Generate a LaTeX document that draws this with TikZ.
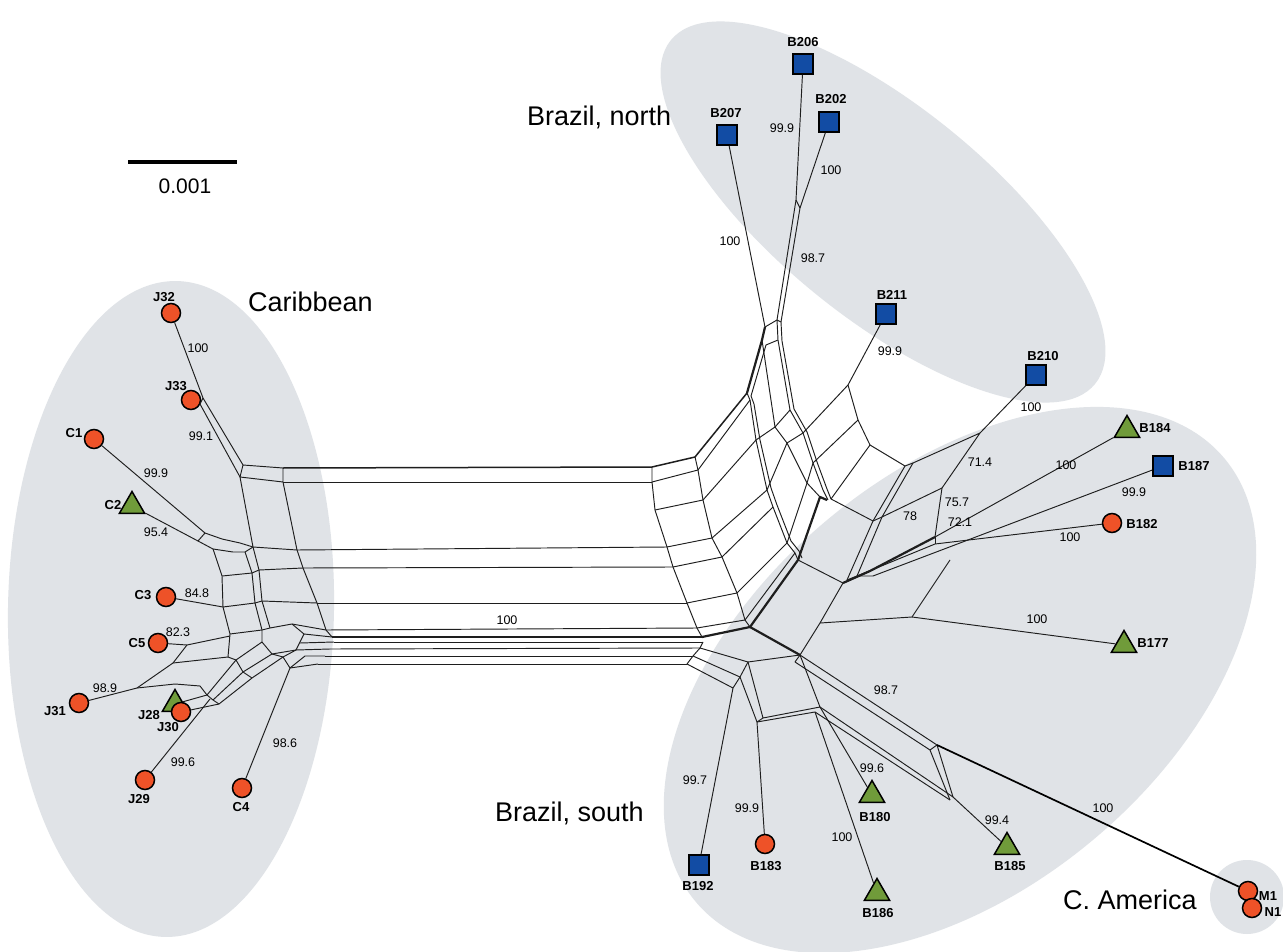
\documentclass[tikz,border=0pt]{standalone}
\usepackage{fontspec}
\setmainfont{Liberation Sans}
\usetikzlibrary{shapes.geometric}
\definecolor{regionfill}{RGB}{224,227,231}
\definecolor{dotred}{RGB}{238,82,40}
\definecolor{sqblue}{RGB}{18,76,164}
\definecolor{trigreen}{RGB}{112,155,58}
\definecolor{meshline}{RGB}{30,30,30}
\tikzset{
  net/.style={line width=0.95pt, draw=meshline, line join=round},
  netthick/.style={line width=2.2pt, draw=meshline, line join=round},
  netmid/.style={line width=1.5pt, draw=meshline, line join=round},
  circ/.style={circle, draw=black, line width=1.5pt, fill=dotred, minimum size=19pt, inner sep=0pt},
  sqr/.style={rectangle, draw=black, line width=1.5pt, fill=sqblue, minimum size=20pt, inner sep=0pt},
  tri/.style={regular polygon, regular polygon sides=3, draw=black, line width=1.5pt, fill=trigreen, minimum size=29pt, inner sep=0pt},
  taxon/.style={font=\fontsize{13}{15}\selectfont\bfseries, inner sep=0pt},
  supp/.style={font=\fontsize{12.5}{15}\selectfont, inner sep=0pt},
  region/.style={font=\fontsize{27}{32}\selectfont, inner sep=0pt, anchor=base west},
  regionbg/.style={fill=regionfill},
}
\begin{document}
\begin{tikzpicture}[x=1pt,y=-1pt]
\useasboundingbox (0,0) rectangle (1283,952);
\fill[white] (0,0) rectangle (1283,952);
% ---------- regions ----------
\fill[regionbg, rotate around={-1:(171,609)}] (171,609) ellipse [x radius=163pt, y radius=328pt];
\fill[regionbg, rotate around={-39:(883,212)}] (883,212) ellipse [x radius=273pt, y radius=106pt];
\fill[regionbg, rotate around={40:(960,680)}] (960,680) ellipse [x radius=345pt, y radius=208pt];
\fill[regionbg] (1247,897) circle [radius=37pt];
% ---------- scale bar ----------
\coordinate (sbL) at (128,162);
\coordinate (sbR) at (237,162);
\draw[line width=3.5pt] (sbL) -- (sbR);
\node[font=\fontsize{21}{25}\selectfont, inner sep=0pt] (sbtext) at (185,186) {0.001};
% ---------- region labels ----------
\node[region] (rgN) at (527,126) {Brazil, north};
\node[region] (rgC) at (248,311) {Caribbean};
\node[region] (rgS) at (495,821) {Brazil, south};
\node[region] (rgA) at (1063,909) {C. America};
% ---------- taxa ----------
\node[circ] (J32) at (171,313) {};
\node[circ] (J33) at (191,400) {};
\node[circ] (C1) at (94,439) {};
\node[tri] (C2) at (132,506) {};
\node[circ] (C3) at (166,597) {};
\node[circ] (C5) at (158,643) {};
\node[circ] (J31) at (79,703) {};
\node[tri] (J28) at (175,704) {};
\node[circ] (J30) at (181,712) {};
\node[circ] (J29) at (145,780) {};
\node[circ] (C4) at (242,788) {};
\node[sqr] (B206) at (803,64) {};
\node[sqr] (B202) at (829,122) {};
\node[sqr] (B207) at (727,135) {};
\node[sqr] (B211) at (886,314) {};
\node[sqr] (B210) at (1036,375) {};
\node[tri] (B184) at (1127,430) {};
\node[sqr] (B187) at (1163,466) {};
\node[circ] (B182) at (1112,523) {};
\node[tri] (B177) at (1124,645) {};
\node[sqr] (B192) at (699,865) {};
\node[circ] (B183) at (765,844) {};
\node[tri] (B180) at (872,795) {};
\node[tri] (B186) at (877,893) {};
\node[tri] (B185) at (1007,847) {};
% ---------- left hub ----------
\draw[net] (J32) -- (203,398);
\draw[net] (J33) -- (200,404);
\draw[net] (203,398) -- (243,465);
\draw[net] (200,404) -- (240,477);
\draw[net] (203,398) -- (200,404);
\draw[net] (243,465) -- (283,468) -- (283,482) -- (240,477) -- cycle;
\draw[net] (240,477) -- (253,547);
\draw[net] (283,482) -- (297,550);
\draw[net] (C1) -- (205,533);
\draw[net] (C2) -- (198,541);
\draw[net] (205,533) -- (198,541);
\draw[net] (205,533) -- (222,539) -- (240,543) -- (253,547);
\draw[net] (198,541) -- (213,549) -- (233,552) -- (245,552);
\draw[net] (213,549) -- (222,576) -- (223,607) -- (230,634) -- (228,657);
\draw[net] (245,552) -- (252,573) -- (255,603) -- (262,630);
\draw[net] (253,547) -- (259,570) -- (262,601) -- (270,628);
\draw[net] (297,550) -- (303,568) -- (317,603) -- (326,630) -- (332,637);
\draw[net] (245,552) -- (253,547) -- (297,550);
\draw[net] (222,576) -- (252,573) -- (259,570) -- (303,568);
\draw[net] (223,607) -- (255,603) -- (262,601) -- (317,603);
\draw[net] (230,634) -- (262,630) -- (270,628);
\draw[net] (270,628) -- (292,624) -- (304,634) -- (296,650) -- (272,654) -- (262,642) -- (262,630);
\draw[net] (304,634) -- (332,637);
\draw[net] (292,624) -- (326,630);
\draw[net] (C3) -- (223,607);
\draw[net] (C5) -- (187,645) -- (230,636);
\draw[net] (262,642) -- (236,660) -- (207,695);
\draw[net] (272,654) -- (243,672) -- (213,700);
\draw[net] (283,657) -- (252,678) -- (219,704);
\draw[net] (272,654) -- (283,657) -- (296,650);
\draw[net] (207,695) -- (213,700) -- (219,704);
\draw[net] (236,660) -- (243,672) -- (252,678);
\draw[net] (207,695) -- (J28);
\draw[net] (219,704) -- (J30);
\draw[net] (J29) -- (210,699);
\draw[net] (J31) -- (137,688) -- (175,684) -- (200,686) -- (207,695);
\draw[net] (137,688) -- (173,663) -- (187,645);
\draw[net] (173,663) -- (228,657) -- (236,660);
\draw[net] (C4) -- (290,668) -- (283,657);
\draw[net] (290,668) -- (318,664);
\draw[net] (296,650) -- (330,649);
\draw[net] (300,643) -- (334,642);
\draw[net] (290,668) -- (305,656) -- (325,656);
% ---------- horizontal bundle ----------
\draw[netmid] (283,468) -- (652,467);
\draw[net] (283,482) -- (652,482);
\draw[net] (297,550) -- (667,547);
\draw[net] (303,568) -- (673,567);
\draw[net] (317,603) -- (687,603);
\draw[net] (326,630) -- (697,628);
\draw[netthick] (332,637) -- (702,637);
\draw[net] (334,642) -- (703,642);
\draw[net] (330,649) -- (700,648);
\draw[net] (325,656) -- (693,656);
\draw[net] (318,664) -- (687,664);
% ---------- right hub ----------
\draw[net] (652,467) -- (652,482) -- (655,510) -- (667,547) -- (673,567) -- (687,603) -- (697,628) -- (702,637);
\draw[net] (695,457) -- (698,470) -- (703,500) -- (712,538) -- (722,557) -- (737,593) -- (745,620) -- (750,627);
\draw[net] (747,393) -- (750,400) -- (756,440) -- (767,490) -- (773,507) -- (787,543) -- (795,553) -- (798,560);
\draw[net] (751,396) -- (754,404) -- (760,440) -- (771,488) -- (777,505) -- (791,541) -- (799,551) -- (802,558);
\draw[netmid] (652,467) -- (695,457) -- (747,393);
\draw[net] (652,482) -- (698,470) -- (750,400);
\draw[net] (655,510) -- (703,500) -- (756,440);
\draw[net] (667,547) -- (712,538) -- (767,490);
\draw[net] (673,567) -- (722,557) -- (773,507);
\draw[net] (687,603) -- (737,593) -- (787,543);
\draw[net] (697,628) -- (745,620) -- (795,553);
\draw[netthick] (702,637) -- (750,627) -- (798,560);
\draw[netthick] (747,393) -- (762,340) -- (765,327);
\draw[net] (751,396) -- (766,345) -- (778,340);
\draw[net] (765,327) -- (777,320);
\draw[net] (762,340) -- (775,427) -- (787,443) -- (807,483) -- (820,497) -- (827,500);
\draw[net] (777,320) -- (778,340) -- (790,410) -- (803,433) -- (813,463) -- (823,490) -- (828,500);
\draw[net] (781,322) -- (782,341) -- (794,409) -- (807,432) -- (817,462) -- (827,489) -- (831,499);
\draw[net] (777,320) -- (781,322);
\draw[net] (756,440) -- (775,427) -- (790,410);
\draw[net] (767,490) -- (787,443) -- (803,433);
\draw[net] (787,543) -- (807,483) -- (813,463);
\draw[netthick] (798,560) -- (820,497) -- (827,500);
% ---------- north ----------
\draw[net] (B207) -- (765,327);
\draw[net] (B206) -- (796,200);
\draw[net] (B202) -- (800,208);
\draw[net] (796,200) -- (800,208);
\draw[net] (796,200) -- (777,320);
\draw[net] (800,208) -- (781,322);
\draw[net] (B211) -- (848,385);
\draw[net] (848,385) -- (858,420) -- (870,445);
\draw[net] (848,385) -- (803,433);
\draw[net] (858,420) -- (813,463);
\draw[net] (870,445) -- (831,499);
\draw[net] (870,445) -- (905,466);
% ---------- east ----------
\draw[net] (913,463) -- (980,433) -- (942,488) -- (882,517) -- cycle;
\draw[net] (905,466) -- (873,521);
\draw[net] (913,463) -- (905,466);
\draw[net] (882,517) -- (873,521);
\draw[net] (873,521) -- (831,499);
\draw[net] (B210) -- (980,433);
\draw[net] (942,488) -- (935,537);
\draw[net] (873,521) -- (847,580);
\draw[net] (882,517) -- (857,576);
\draw[net] (798,560) -- (843,583);
\draw[netthick] (935,537) -- (870,571) -- (843,583);
\draw[net] (B184) -- (935,537);
\draw[net] (B182) -- (935,544);
\draw[net] (B187) -- (873,576);
\draw[net] (935,537) -- (935,544);
\draw[net] (935,544) -- (857,576);
\draw[net] (847,580) -- (857,576) -- (873,576);
\draw[net] (843,583) -- (820,623) -- (800,655);
\draw[net] (820,623) -- (912,617) -- (B177);
\draw[net] (912,617) -- (950,560);
% ---------- south ----------
\draw[net] (703,642) -- (700,648) -- (693,656) -- (687,664);
\draw[net] (700,648) -- (748,662) -- (800,655);
\draw[net] (693,656) -- (740,677);
\draw[net] (687,664) -- (733,688);
\draw[net] (748,662) -- (740,677) -- (733,688);
\draw[net] (740,677) -- (757,722) -- (815,712);
\draw[net] (748,662) -- (763,718) -- (820,707) -- (800,655);
\draw[net] (757,722) -- (763,718);
\draw[netthick] (750,627) -- (800,655);
\draw[net] (800,655) -- (937,745);
\draw[net] (795,662) -- (930,750);
\draw[net] (800,655) -- (795,662);
\draw[net] (937,745) -- (930,750);
\draw[net] (733,688) -- (B192);
\draw[net] (757,722) -- (B183);
\draw[net] (820,707) -- (B180);
\draw[net] (815,712) -- (B186);
\draw[net] (820,707) -- (953,797);
\draw[net] (815,712) -- (950,800);
\draw[net] (930,750) -- (950,800);
\draw[net] (937,745) -- (953,797);
\draw[net] (953,797) -- (B185);
% ---------- C. America ----------
\node[circ] (M1) at (1248,891) {};
\node[circ] (N1) at (1252,908) {};
\draw[line width=1.7pt] (937,745) -- (M1);
% ---------- taxon labels ----------
\node[taxon] (lJ32) at (164,297) {J32};
\node[taxon] (lJ33) at (176,386) {J33};
\node[taxon] (lC1) at (74,433) {C1};
\node[taxon] (lC2) at (113,505) {C2};
\node[taxon] (lC3) at (143,595) {C3};
\node[taxon] (lC5) at (137,643) {C5};
\node[taxon] (lJ31) at (55,711) {J31};
\node[taxon] (lJ28) at (149,715) {J28};
\node[taxon] (lJ30) at (168,727) {J30};
\node[taxon] (lJ29) at (139,799) {J29};
\node[taxon] (lC4) at (241,807) {C4};
\node[taxon] (lB206) at (803,42) {B206};
\node[taxon] (lB202) at (831,99) {B202};
\node[taxon] (lB207) at (726,113) {B207};
\node[taxon] (lB211) at (892,295) {B211};
\node[taxon] (lB210) at (1043,356) {B210};
\node[taxon] (lB184) at (1155,428) {B184};
\node[taxon] (lB187) at (1194,466) {B187};
\node[taxon] (lB182) at (1142,524) {B182};
\node[taxon] (lB177) at (1153,643) {B177};
\node[taxon] (lB192) at (698,886) {B192};
\node[taxon] (lB183) at (766,866) {B183};
\node[taxon] (lB180) at (875,817) {B180};
\node[taxon] (lB186) at (878,913) {B186};
\node[taxon] (lB185) at (1010,866) {B185};
\node[taxon] (lM1) at (1268,896) {M1};
\node[taxon] (lN1) at (1273,912) {N1};
% ---------- support values ----------
\node[supp] (s1) at (198,348) {100};
\node[supp] (s2) at (201,436) {99.1};
\node[supp] (s3) at (156,473) {99.9};
\node[supp] (s4) at (156,532) {95.4};
\node[supp] (s5) at (197,593) {84.8};
\node[supp] (s6) at (178,632) {82.3};
\node[supp] (s7) at (105,688) {98.9};
\node[supp] (s8) at (183,762) {99.6};
\node[supp] (s9) at (285,743) {98.6};
\node[supp] (s10) at (507,620) {100};
\node[supp] (s11) at (782,128) {99.9};
\node[supp] (s12) at (831,170) {100};
\node[supp] (s13) at (730,241) {100};
\node[supp] (s14) at (813,258) {98.7};
\node[supp] (s15) at (890,351) {99.9};
\node[supp] (s16) at (1031,407) {100};
\node[supp] (s17) at (980,462) {71.4};
\node[supp] (s18) at (957,502) {75.7};
\node[supp] (s19) at (960,522) {72.1};
\node[supp] (s20) at (910,516) {78};
\node[supp] (s21) at (1066,465) {100};
\node[supp] (s22) at (1134,492) {99.9};
\node[supp] (s23) at (1070,537) {100};
\node[supp] (s24) at (1037,619) {100};
\node[supp] (s25) at (886,690) {98.7};
\node[supp] (s26) at (695,780) {99.7};
\node[supp] (s27) at (747,808) {99.9};
\node[supp] (s28) at (842,837) {100};
\node[supp] (s29) at (872,768) {99.6};
\node[supp] (s30) at (997,820) {99.4};
\node[supp] (s31) at (1103,808) {100};
\end{tikzpicture}
\end{document}
